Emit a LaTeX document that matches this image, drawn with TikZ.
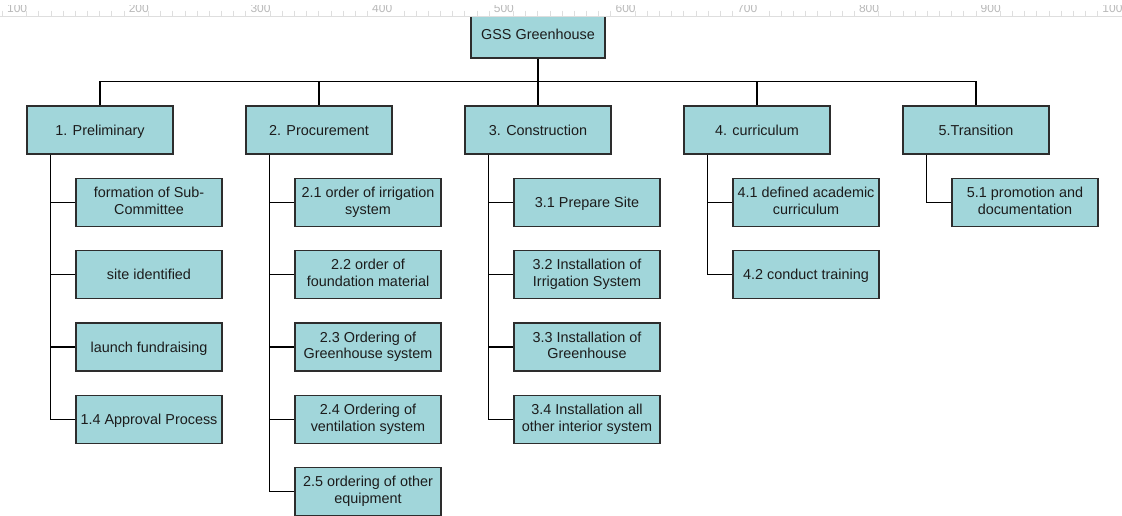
\documentclass[tikz,border=0pt]{standalone}
\usepackage{fontspec}
\setmainfont{Liberation Sans}
\definecolor{boxfill}{RGB}{161,214,218}
\definecolor{boxline}{RGB}{45,45,45}
\definecolor{boxtext}{RGB}{28,28,28}
\definecolor{rulerline}{RGB}{222,222,222}
\definecolor{rulertext}{RGB}{185,185,185}
% fixed line box so that every label sits at the same place in its box
\newcommand{\linebox}{\rule[-3.25pt]{0pt}{16.5pt}}
\begin{document}
\begin{tikzpicture}[x=1pt,y=-1pt,
  box/.style={draw=boxline, fill=boxfill, line width=1.2pt, text=boxtext,
    font=\fontsize{14.4}{16.6}\selectfont, align=center, inner sep=0pt,
    minimum width=146pt, minimum height=48pt,
    execute at begin node=\linebox, execute at end node=\linebox},
  link/.style={draw=black, line width=1.1pt},
  ruletick/.style={draw=rulerline, line width=0.9pt},
  rulelabel/.style={text=rulertext, font=\fontsize{12}{12}\selectfont, inner sep=0pt, anchor=base west}]
\useasboundingbox (0,0) rectangle (1122,515);
\clip (0,0) rectangle (1122,515);
\fill[white] (0,0) rectangle (1122,515);

% root (its top edge runs under the ruler strip)
\node[box, minimum width=134pt] (root) at (538,34) {GSS Greenhouse};

% phases
\node[box] (p1) at (100,130) {1. Preliminary};
\node[box] (p2) at (319,130) {2. Procurement};
\node[box] (p3) at (538,130) {3. Construction};
\node[box] (p4) at (757,130) {4. curriculum};
\node[box] (p5) at (976,130) {5.Transition};

% tasks of phase 1
\node[box] (c11) at (149,202.5) {formation of Sub-\\Committee};
\node[box] (c12) at (149,274.7) {site identified};
\node[box] (c13) at (149,347) {launch fundraising};
\node[box] (c14) at (149,419.2) {1.4 Approval Process};

% tasks of phase 2
\node[box] (c21) at (368,202.5) {2.1 order of irrigation\\system};
\node[box] (c22) at (368,274.7) {2.2 order of\\foundation material};
\node[box] (c23) at (368,347) {2.3 Ordering of\\Greenhouse system};
\node[box] (c24) at (368,419.2) {2.4 Ordering of\\ventilation system};
\node[box] (c25) at (368,491.4) {2.5 ordering of other\\equipment};

% tasks of phase 3
\node[box] (c31) at (587,202.5) {3.1 Prepare Site};
\node[box] (c32) at (587,274.7) {3.2 Installation of\\Irrigation System};
\node[box] (c33) at (587,347) {3.3 Installation of\\Greenhouse};
\node[box] (c34) at (587,419.2) {3.4 Installation all\\other interior system};

% tasks of phase 4
\node[box] (c41) at (806,202.5) {4.1 defined academic\\curriculum};
\node[box] (c42) at (806,274.7) {4.2 conduct training};

% tasks of phase 5
\node[box] (c51) at (1025,202.5) {5.1 promotion and\\documentation};

% bus from the root to the phases
\coordinate (bus) at (538,81.5);
\draw[link] (root.south) -- (bus);
\foreach \p in {p1,p2,p3,p4,p5}
  \draw[link] (bus) -| (\p.north);

% spines from each phase to its tasks
\foreach \p/\kids in {p1/{c11,c12,c13,c14}, p2/{c21,c22,c23,c24,c25},
                      p3/{c31,c32,c33,c34}, p4/{c41,c42}, p5/{c51}}
  \foreach \c in \kids
    \draw[link] ([xshift=24pt]\p.south west) |- (\c.west);

% ruler strip along the top edge
\fill[white] (0,0) rectangle (1122,17.3);
\draw[draw=rulerline, line width=1pt] (0,16.5) -- (1122,16.5);
\foreach \k in {0,...,92} {
  \pgfmathsetmacro{\tx}{2.4+12.17*\k}
  \draw[ruletick] (\tx,10.5) -- (\tx,16.5);
}
\foreach \k/\lab in {0/100,1/200,2/300,3/400,4/500,5/600,6/700,7/800,8/900,9/1000} {
  \pgfmathsetmacro{\tx}{2.4+121.7*\k}
  \fill[white] (\tx+2,0) rectangle (\tx+24,15.5);
  \node[rulelabel] (lab\k) at (\tx+4.5,12) {\lab};
}
% the top of the ruler labels is hidden under the window edge
\fill[white] (0,0) rectangle (1122,5);
\end{tikzpicture}
\end{document}
